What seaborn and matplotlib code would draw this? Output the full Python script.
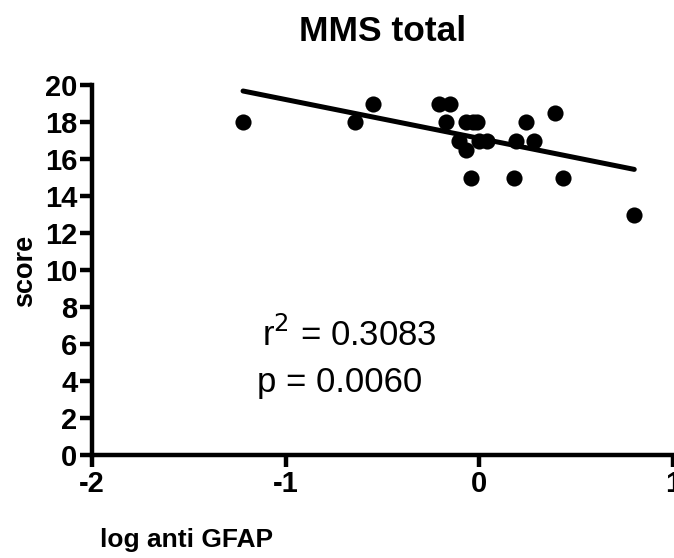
import matplotlib
import matplotlib.pyplot as plt
import pandas as pd
import seaborn as sns

matplotlib.use("Agg")

# log anti GFAP vs MMS total score
log_gfap = [-1.22, -0.64, -0.55, -0.21, -0.15, -0.17, -0.07, -0.035, -0.01,
            -0.105, -0.07, 0.0, 0.04, 0.19, 0.24, 0.28, 0.39, -0.045, 0.18,
            0.43, 0.80]
score = [18, 18, 19, 19, 19, 18, 18, 18, 18,
         17, 16.5, 17, 17, 17, 18, 17, 18.5, 15, 15,
         15, 13]

x_ticks = [-2, -1, 0, 1]
y_ticks = list(range(0, 21, 2))

df = pd.DataFrame({"log_gfap": log_gfap, "score": score})

sns.set_theme(style="ticks", rc={"text.color": "black", "xtick.color": "black",
                                 "ytick.color": "black", "axes.labelcolor": "black"})
plt.rcParams["font.family"] = ["Liberation Sans", "DejaVu Sans"]

fig = plt.figure(figsize=(6.74, 5.58), dpi=100)
ax = fig.add_axes([0.1365, 0.1846, 0.862, 0.663])

sns.regplot(data=df, x="log_gfap", y="score", ax=ax, ci=None, color="black",
            scatter_kws={"s": 135, "alpha": 1, "linewidths": 0, "clip_on": False},
            line_kws={"linewidth": 3.6, "solid_capstyle": "round"})

ax.set_xlim(-2, 1)
ax.set_ylim(0, 20)
ax.set_xticks(x_ticks)
ax.set_yticks(y_ticks)
ax.set_xticklabels([str(t) for t in x_ticks], fontsize=21, fontweight="bold")
ax.set_yticklabels([str(t) for t in y_ticks], fontsize=21, fontweight="bold")
ax.tick_params(axis="both", length=8.5, width=3.2, color="black", pad=2)
sns.despine(ax=ax)
for side in ("left", "bottom"):
    ax.spines[side].set_linewidth(3.2)
    ax.spines[side].set_color("black")
ax.set_xlabel("")
ax.set_ylabel("")

ax.set_title("MMS total", fontsize=25.5, fontweight="bold", pad=32)
fig.text(0.037, 0.515, "score", rotation=90, fontsize=19.5, fontweight="bold",
         ha="center", va="center")
fig.text(0.148, 0.032, "log anti GFAP", fontsize=19, fontweight="bold",
         ha="left", va="center")

ax.text(-1.12, 6.5, "r$^2$ = 0.3083", fontsize=25, ha="left", va="center")
ax.text(-1.15, 3.9, "p = 0.0060", fontsize=25, ha="left", va="center")

fig.savefig("out.png", dpi=100)
